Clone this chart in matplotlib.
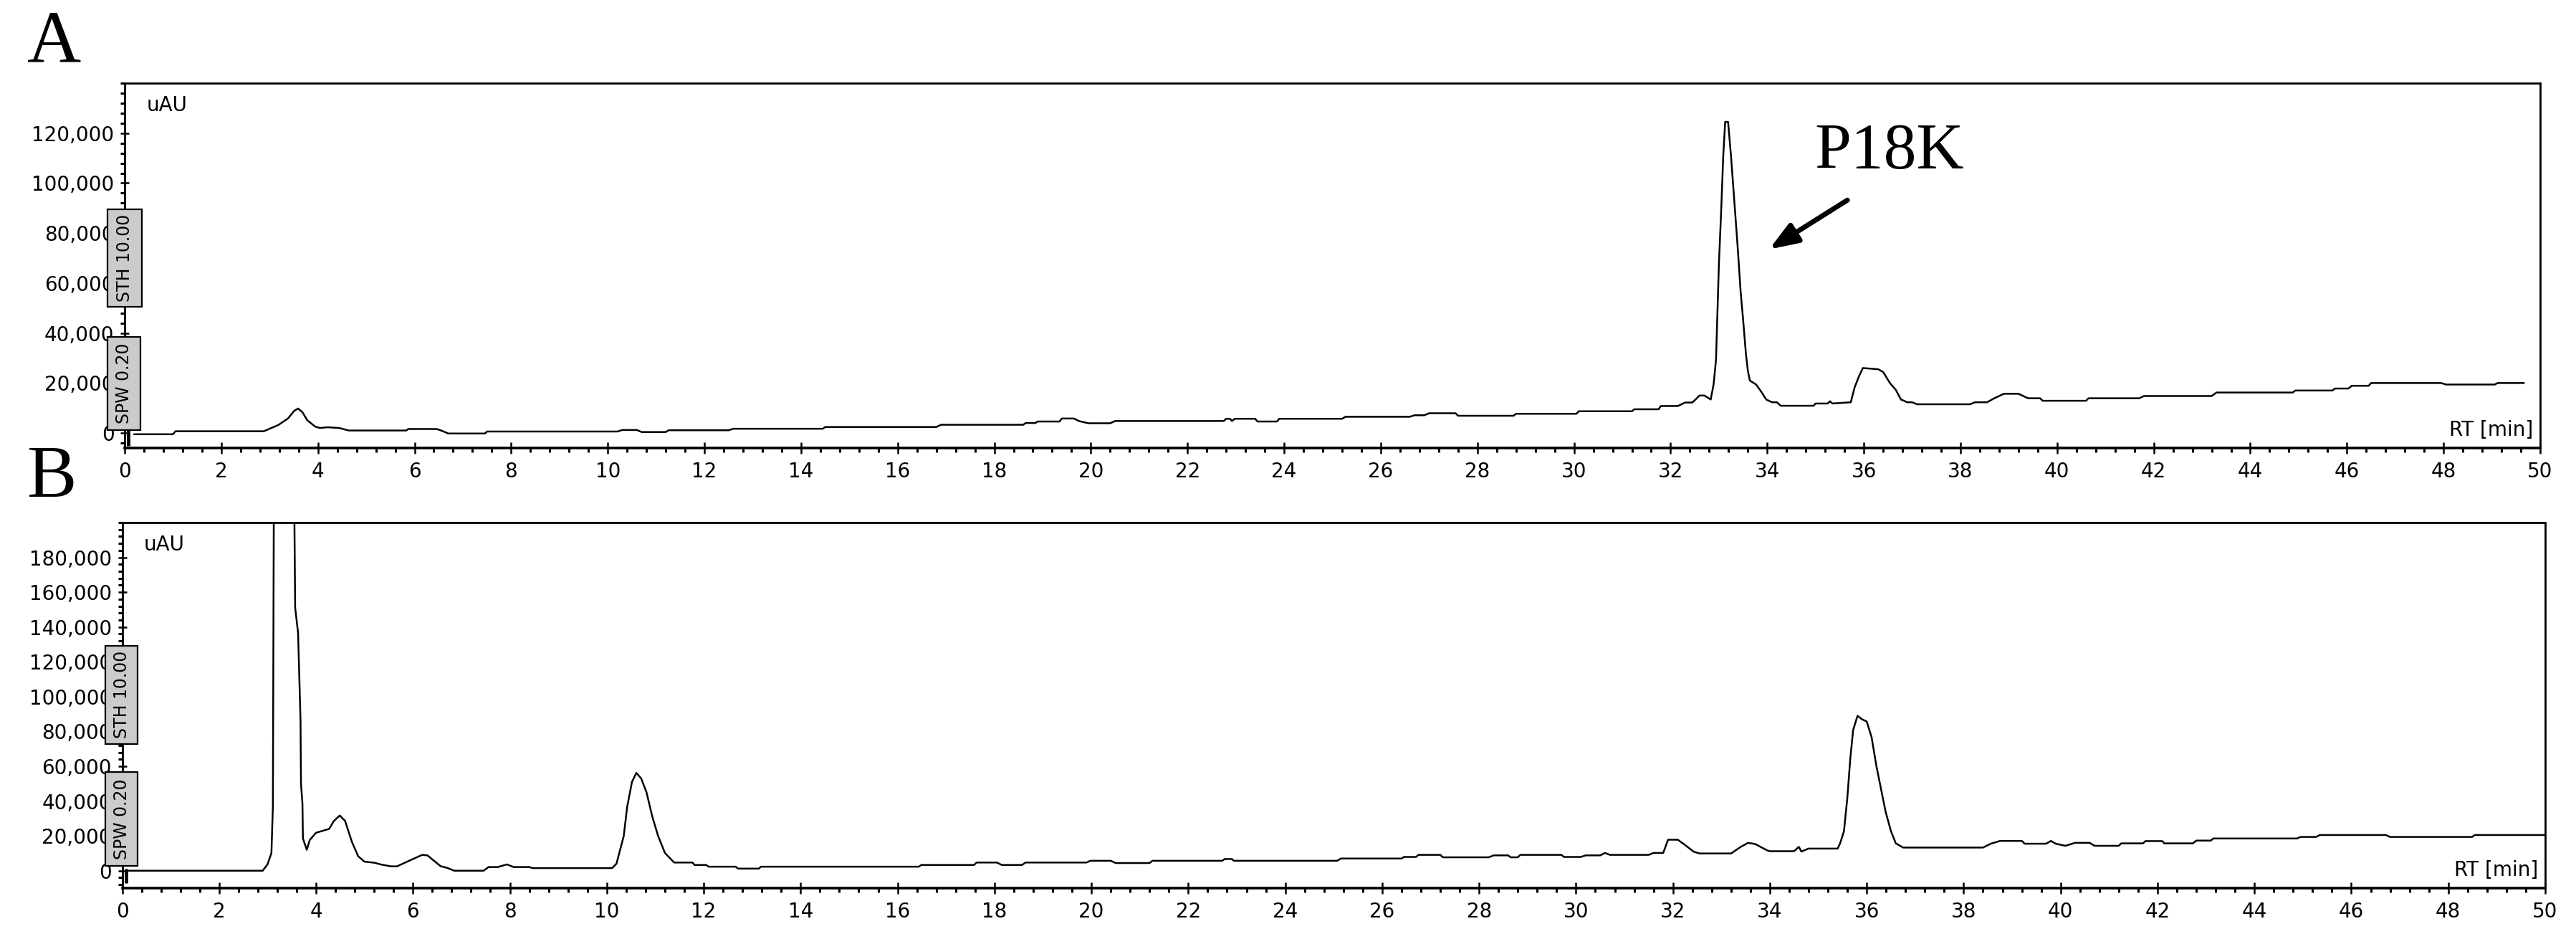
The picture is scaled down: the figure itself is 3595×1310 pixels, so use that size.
import matplotlib
matplotlib.use("Agg")
import matplotlib.pyplot as plt
from matplotlib.ticker import MultipleLocator, FuncFormatter
from matplotlib.patches import Rectangle

# ---------------- data (RT in min, signal in thousand uAU) ----------------
a_rt = [0.2, 1.0, 1.05, 2.88, 3.18, 3.38, 3.51, 3.59, 3.68, 3.78, 3.94, 4.04, 4.2, 4.44, 4.64, 5.83,
        5.87, 6.46, 6.55, 6.7, 7.46, 7.5, 10.2, 10.3, 10.6, 10.7, 11.2, 11.26, 12.5, 12.6, 14.45, 14.5,
        16.8, 16.9, 18.6, 18.65, 18.85, 18.9, 19.35, 19.4, 19.65, 19.75, 19.95, 20.4, 20.5, 22.75, 22.8,
        22.88, 22.92, 22.98, 23.4, 23.45, 23.85, 23.9, 25.2, 25.27, 26.6, 26.7, 26.9, 27.0, 27.55, 27.6,
        28.75, 28.8, 30.05, 30.1, 31.2, 31.25, 31.75, 31.8, 32.15, 32.3, 32.45, 32.6, 32.7, 32.83, 32.89,
        32.94, 33.0, 33.05, 33.09, 33.13, 33.19, 33.25, 33.34, 33.39, 33.45, 33.5, 33.56, 33.6, 33.64,
        33.77, 33.87, 33.98, 34.1, 34.2, 34.28, 34.96, 35.0, 35.25, 35.3, 35.35, 35.73, 35.81, 35.9,
        35.98, 36.3, 36.4, 36.54, 36.66, 36.77, 36.9, 37.0, 37.1, 38.2, 38.3, 38.55, 38.7, 38.9, 39.2,
        39.4, 39.65, 39.7, 40.6, 40.65, 41.7, 41.8, 43.2, 43.3, 44.88, 44.93, 45.7, 45.75, 46.03, 46.1,
        46.45, 46.5, 47.95, 48.05, 49.06, 49.12, 49.66]
a_sig = [-0.5, -0.5, 0.7, 0.7, 3.2, 5.8, 8.9, 9.8, 8.3, 5.1, 2.6, 2.0, 2.3, 2.0, 1.0, 1.0,
         1.6, 1.6, 1.0, -0.2, -0.2, 0.6, 0.6, 1.2, 1.2, 0.4, 0.4, 1.1, 1.1, 1.7, 1.7, 2.4,
         2.4, 3.3, 3.3, 4.0, 4.0, 4.6, 4.6, 5.8, 5.8, 4.8, 3.9, 3.9, 4.8, 4.8, 5.7,
         5.7, 4.8, 5.7, 5.7, 4.6, 4.6, 5.7, 5.7, 6.5, 6.5, 7.1, 7.1, 7.9, 7.9, 6.9,
         6.9, 7.7, 7.7, 8.7, 8.7, 9.5, 9.5, 10.8, 10.8, 12.2, 12.2, 15.0, 15.0, 13.4, 19.4,
         29.3, 67.5, 90.4, 111.0, 124.5, 124.5, 111.0, 87.0, 74.0, 56.5, 45.6, 31.5, 24.9, 21.0,
         19.4, 16.7, 13.4, 12.3, 12.3, 10.9, 10.9, 11.8, 11.8, 12.7, 11.8, 12.3, 18.3, 22.7,
         26.0, 25.5, 24.4, 20.0, 17.3, 13.4, 12.3, 12.3, 11.5, 11.5, 12.3, 12.3, 13.9, 15.7, 15.7,
         13.9, 13.9, 12.9, 12.9, 13.9, 13.9, 14.8, 14.8, 16.2, 16.2, 17.0, 17.0, 17.8, 17.8, 18.9,
         18.9, 20.0, 20.0, 19.4, 19.4, 20.0, 20.0]

b_rt = [0.11, 2.90, 3.00, 3.08, 3.11, 3.13, 3.33, 3.55, 3.57, 3.63, 3.68, 3.69, 3.72, 3.73, 3.81,
        3.87, 4.0, 4.27, 4.37, 4.49, 4.6, 4.74, 4.87, 5.0, 5.2, 5.35, 5.55, 5.67, 5.86, 6.19, 6.3,
        6.57, 6.71, 6.85, 7.46, 7.56, 7.75, 7.94, 8.08, 8.41, 8.46, 10.11, 10.2, 10.35, 10.42, 10.52,
        10.61, 10.71, 10.82, 10.94, 11.06, 11.2, 11.39, 11.77, 11.81, 12.05, 12.1, 12.66, 12.71, 13.14,
        13.18, 16.44, 16.49, 17.58, 17.63, 18.05, 18.15, 18.57, 18.64, 19.9, 19.98, 20.4, 20.5, 21.2,
        21.26, 22.7, 22.75, 22.9, 22.94, 25.07, 25.15, 26.4, 26.45, 26.7, 26.75, 27.2, 27.25, 28.2,
        28.3, 28.6, 28.65, 28.8, 28.85, 29.7, 29.75, 30.1, 30.2, 30.5, 30.6, 30.7, 31.5, 31.6, 31.8,
        31.9, 32.1, 32.24, 32.43, 32.55, 33.2, 33.4, 33.55, 33.7, 33.95, 34.0, 34.5, 34.6, 34.65, 34.8,
        35.4, 35.45, 35.53, 35.6, 35.66, 35.72, 35.81, 35.9, 36.0, 36.1, 36.2, 36.29, 36.39, 36.5,
        36.6, 36.75, 38.4, 38.56, 38.75, 39.2, 39.26, 39.7, 39.8, 39.9, 40.1, 40.3, 40.6, 40.7, 41.2,
        41.25, 41.7, 41.75, 42.1, 42.14, 42.73, 42.8, 43.1, 43.15, 44.88, 44.95, 45.27, 45.35, 46.71,
        46.8, 48.49, 48.55, 50.0]
b_sig = [0.0, 0.0, 3.7, 10.2, 36.9, 215.0, 600.0, 215.0, 151.0, 136.6, 86.7, 49.9, 38.7, 18.5, 12.0,
         17.6, 21.8, 24.0, 28.6, 31.7, 28.6, 16.6, 8.3, 5.2, 4.6, 3.5, 2.5, 2.5, 4.9, 9.1, 8.8,
         2.6, 1.6, 0.0, 0.0, 2.1, 2.1, 3.6, 2.1, 2.1, 1.5, 1.5, 4.0, 19.9, 36.5, 51.0,
         56.2, 53.0, 45.0, 31.0, 19.9, 10.2, 4.7, 4.7, 3.3, 3.3, 2.3, 2.3, 1.2, 1.2,
         2.3, 2.3, 3.3, 3.3, 4.7, 4.7, 3.3, 3.3, 4.7, 4.7, 5.7, 5.7, 4.4, 4.4,
         5.7, 5.7, 6.7, 6.7, 5.7, 5.7, 7.0, 7.0, 7.9, 7.9, 9.1, 9.1, 7.7, 7.7,
         8.8, 8.8, 7.7, 7.7, 9.1, 9.1, 7.9, 7.9, 8.8, 8.8, 10.2, 9.1, 9.1, 10.2, 10.2,
         17.8, 17.8, 15.0, 10.9, 9.9, 9.9, 13.7, 16.0, 15.3, 11.6, 11.2, 11.2, 13.7, 11.0, 12.7,
         12.7, 15.7, 22.7, 42.0, 64.3, 80.9, 89.0, 87.0, 85.7, 76.7, 60.0, 47.6, 33.8, 22.7,
         15.7, 13.3, 13.3, 15.5, 17.1, 17.1, 15.5, 15.5, 17.1, 15.5, 14.3, 16.0, 16.0, 14.3, 14.3,
         15.7, 15.7, 17.0, 17.0, 15.7, 15.7, 17.3, 17.3, 18.5, 18.5, 19.4, 19.4, 20.5, 20.5,
         19.4, 19.4, 20.5, 20.5]

a_yticks = [0, 20000, 40000, 60000, 80000, 100000, 120000]
b_yticks = [0, 20000, 40000, 60000, 80000, 100000, 120000, 140000, 160000, 180000]
x_ticks = list(range(0, 51, 2))
a_ylim = (-6000, 140000)
b_ylim = (-10000, 200000)
inject_rt = 0.08
a_inject = (-5000, 1400)
b_inject = (-7000, 1000)
sth_label = "STH 10.00"
spw_label = "SPW 0.20"
peak_label = "P18K"
arrow_tip = (34.04, 73500)
arrow_tail = (35.66, 93200)

# ---------------- figure ----------------
W, H = 3595, 1310
fig = plt.figure(figsize=(W / 100, H / 100), dpi=100)
plt.rcParams['font.family'] = ['DejaVu Sans']


def fx(px):
    return px / W


def fy(py):
    return 1 - py / H


axA = fig.add_axes([fx(174), fy(625), fx(3545) - fx(174), fy(116) - fy(625)])
axB = fig.add_axes([fx(170.5), fy(1239), fx(3552) - fx(170.5), fy(729) - fy(1239)])

fmt = FuncFormatter(lambda v, p: f"{int(round(v)):,}")

for ax, rt, sig, yt, yl, inj in [(axA, a_rt, a_sig, a_yticks, a_ylim, a_inject),
                                  (axB, b_rt, b_sig, b_yticks, b_ylim, b_inject)]:
    ax.plot(rt, [s * 1000 for s in sig], color='black', lw=1.8, zorder=3)
    ax.vlines(inject_rt, inj[0], inj[1], color='black', lw=3.5, zorder=3)
    ax.set_xlim(0, 50)
    ax.set_ylim(*yl)
    ax.set_xticks(x_ticks)
    ax.xaxis.set_minor_locator(MultipleLocator(0.4))
    ax.set_yticks(yt)
    ax.yaxis.set_minor_locator(MultipleLocator(4000))
    ax.yaxis.set_major_formatter(fmt)
    for s in ax.spines.values():
        s.set_linewidth(2.0)
        s.set_zorder(4)
    ax.spines['bottom'].set_linewidth(2.6)
    ax.tick_params(axis='x', which='major', direction='inout', length=11, width=1.8,
                   labelsize=20, pad=8)
    ax.tick_params(axis='x', which='minor', direction='out', length=4, width=2.2)
    ax.tick_params(axis='y', which='major', direction='inout', length=9, width=1.8,
                   labelsize=20, pad=6)
    ax.tick_params(axis='y', which='minor', direction='out', length=4, width=2.2)
    ax.text(0.009, 0.966, 'uAU', transform=ax.transAxes, ha='left', va='top', fontsize=20)
    ax.text(0.997, 0.022, 'RT [min]', transform=ax.transAxes, ha='right', va='bottom',
            fontsize=20)

# annotation arrow and label on panel A
axA.annotate('', xy=arrow_tip, xytext=arrow_tail, xycoords='data', textcoords='data',
             arrowprops=dict(arrowstyle='-|>,head_length=0.8,head_width=0.3', lw=5,
                             color='black', mutation_scale=30, shrinkA=0, shrinkB=0),
             zorder=5)
fig.text(fx(2532), fy(235), peak_label, ha='left', va='baseline', fontsize=66,
         family='Liberation Serif')

# panel letters
fig.text(fx(38), fy(87), 'A', ha='left', va='baseline', fontsize=75, family='Liberation Serif')
fig.text(fx(38), fy(693), 'B', ha='left', va='baseline', fontsize=75, family='Liberation Serif')

# STH / SPW parameter boxes
boxes = [((149.6, 292, 197.8, 427.7), sth_label), ((149.6, 470, 196.4, 600.4), spw_label),
         ((147, 901, 192, 1037.7), sth_label), ((147, 1076.5, 192, 1208.2), spw_label)]
for (x0, y0, x1, y1), lab in boxes:
    fig.patches.append(Rectangle((fx(x0), fy(y1)), fx(x1) - fx(x0), fy(y0) - fy(y1),
                                 transform=fig.transFigure, facecolor='#cbcbcb',
                                 edgecolor='black', lw=1.6, zorder=10))
    fig.text(fx((x0 + x1) / 2), fy((y0 + y1) / 2), lab, rotation=90, ha='center', va='center',
             fontsize=17, zorder=11)

fig.savefig('out.png', dpi=100)
